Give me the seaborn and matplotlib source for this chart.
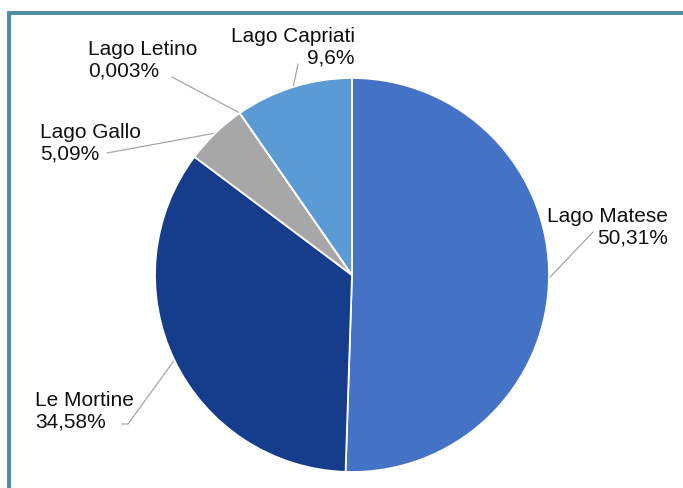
import numpy as np
import matplotlib
matplotlib.use("Agg")
import matplotlib.pyplot as plt
import seaborn as sns
from matplotlib.patches import Rectangle

# Quota per bacino (%)
labels = ["Lago Matese", "Le Mortine", "Lago Gallo", "Lago Letino", "Lago Capriati"]
values = [50.31, 34.58, 5.09, 0.003, 9.6]
value_text = ["50,31%", "34,58%", "5,09%", "0,003%", "9,6%"]
colors = ["#4472C4", "#153D8B", "#A7A7A7", "#8FB3E0", "#5A9BD5"]

sns.set_theme(style="white")
plt.rcParams["font.family"] = ["Liberation Sans", "DejaVu Sans"]

W, H = 683, 488
fig = plt.figure(figsize=(W / 100, H / 100), dpi=100)
fig.patch.set_facecolor("white")

# Pie centre and radius in pixels
cx, cy, r = 352, 275, 197
ax = fig.add_axes([(cx - r) / W, (H - cy - r) / H, 2 * r / W, 2 * r / H])
wedges, _ = ax.pie(values, colors=colors, startangle=90, counterclock=False,
                   radius=1.0, wedgeprops=dict(edgecolor="white", linewidth=1.3))
ax.set_xlim(-1, 1)
ax.set_ylim(-1, 1)
ax.set_aspect("equal")
ax.axis("off")


def px(x, y):
    """pixel position -> data coordinates of the pie axes"""
    return (x - cx) / r, (cy - y) / r


def edge_point(w, frac=0.5):
    ang = np.deg2rad(w.theta1 + (w.theta2 - w.theta1) * frac)
    return np.cos(ang), np.sin(ang)


# label layout: text anchor (px), alignment, leader end (px)
layout = {
    "Lago Matese": dict(pos=(668, 227), ha="right", end=[(593, 232)]),
    "Le Mortine": dict(pos=(35, 411), ha="left", end=[(128, 424), (122, 424)]),
    "Lago Gallo": dict(pos=(40, 143), ha="left", end=[(107, 153)]),
    "Lago Letino": dict(pos=(88, 60), ha="left", end=[(172, 77)]),
    "Lago Capriati": dict(pos=(355, 47), ha="right", end=[(298, 64)]),
}

for w, lab, vt in zip(wedges, labels, value_text):
    spec = layout[lab]
    tx, ty = px(*spec["pos"])
    ax.text(tx, ty, f"{lab}\n{vt}", ha=spec["ha"], va="center",
            multialignment=spec["ha"], fontsize=15, color="#111111",
            linespacing=1.15, clip_on=False)
    sx, sy = edge_point(w)
    pts = [(sx, sy)] + [px(*p) for p in spec["end"]]
    xs, ys = zip(*pts)
    ax.plot(xs, ys, color="#A6A6A6", lw=0.9, clip_on=False, zorder=0.5)

# Frame around the chart area
fig.patches.append(Rectangle((8.5 / W, -0.1), 1.2, 1.1 - 13.5 / H,
                             transform=fig.transFigure, fill=False,
                             edgecolor="#4F8AA3", linewidth=2.8))

fig.savefig("out.png", dpi=100)
